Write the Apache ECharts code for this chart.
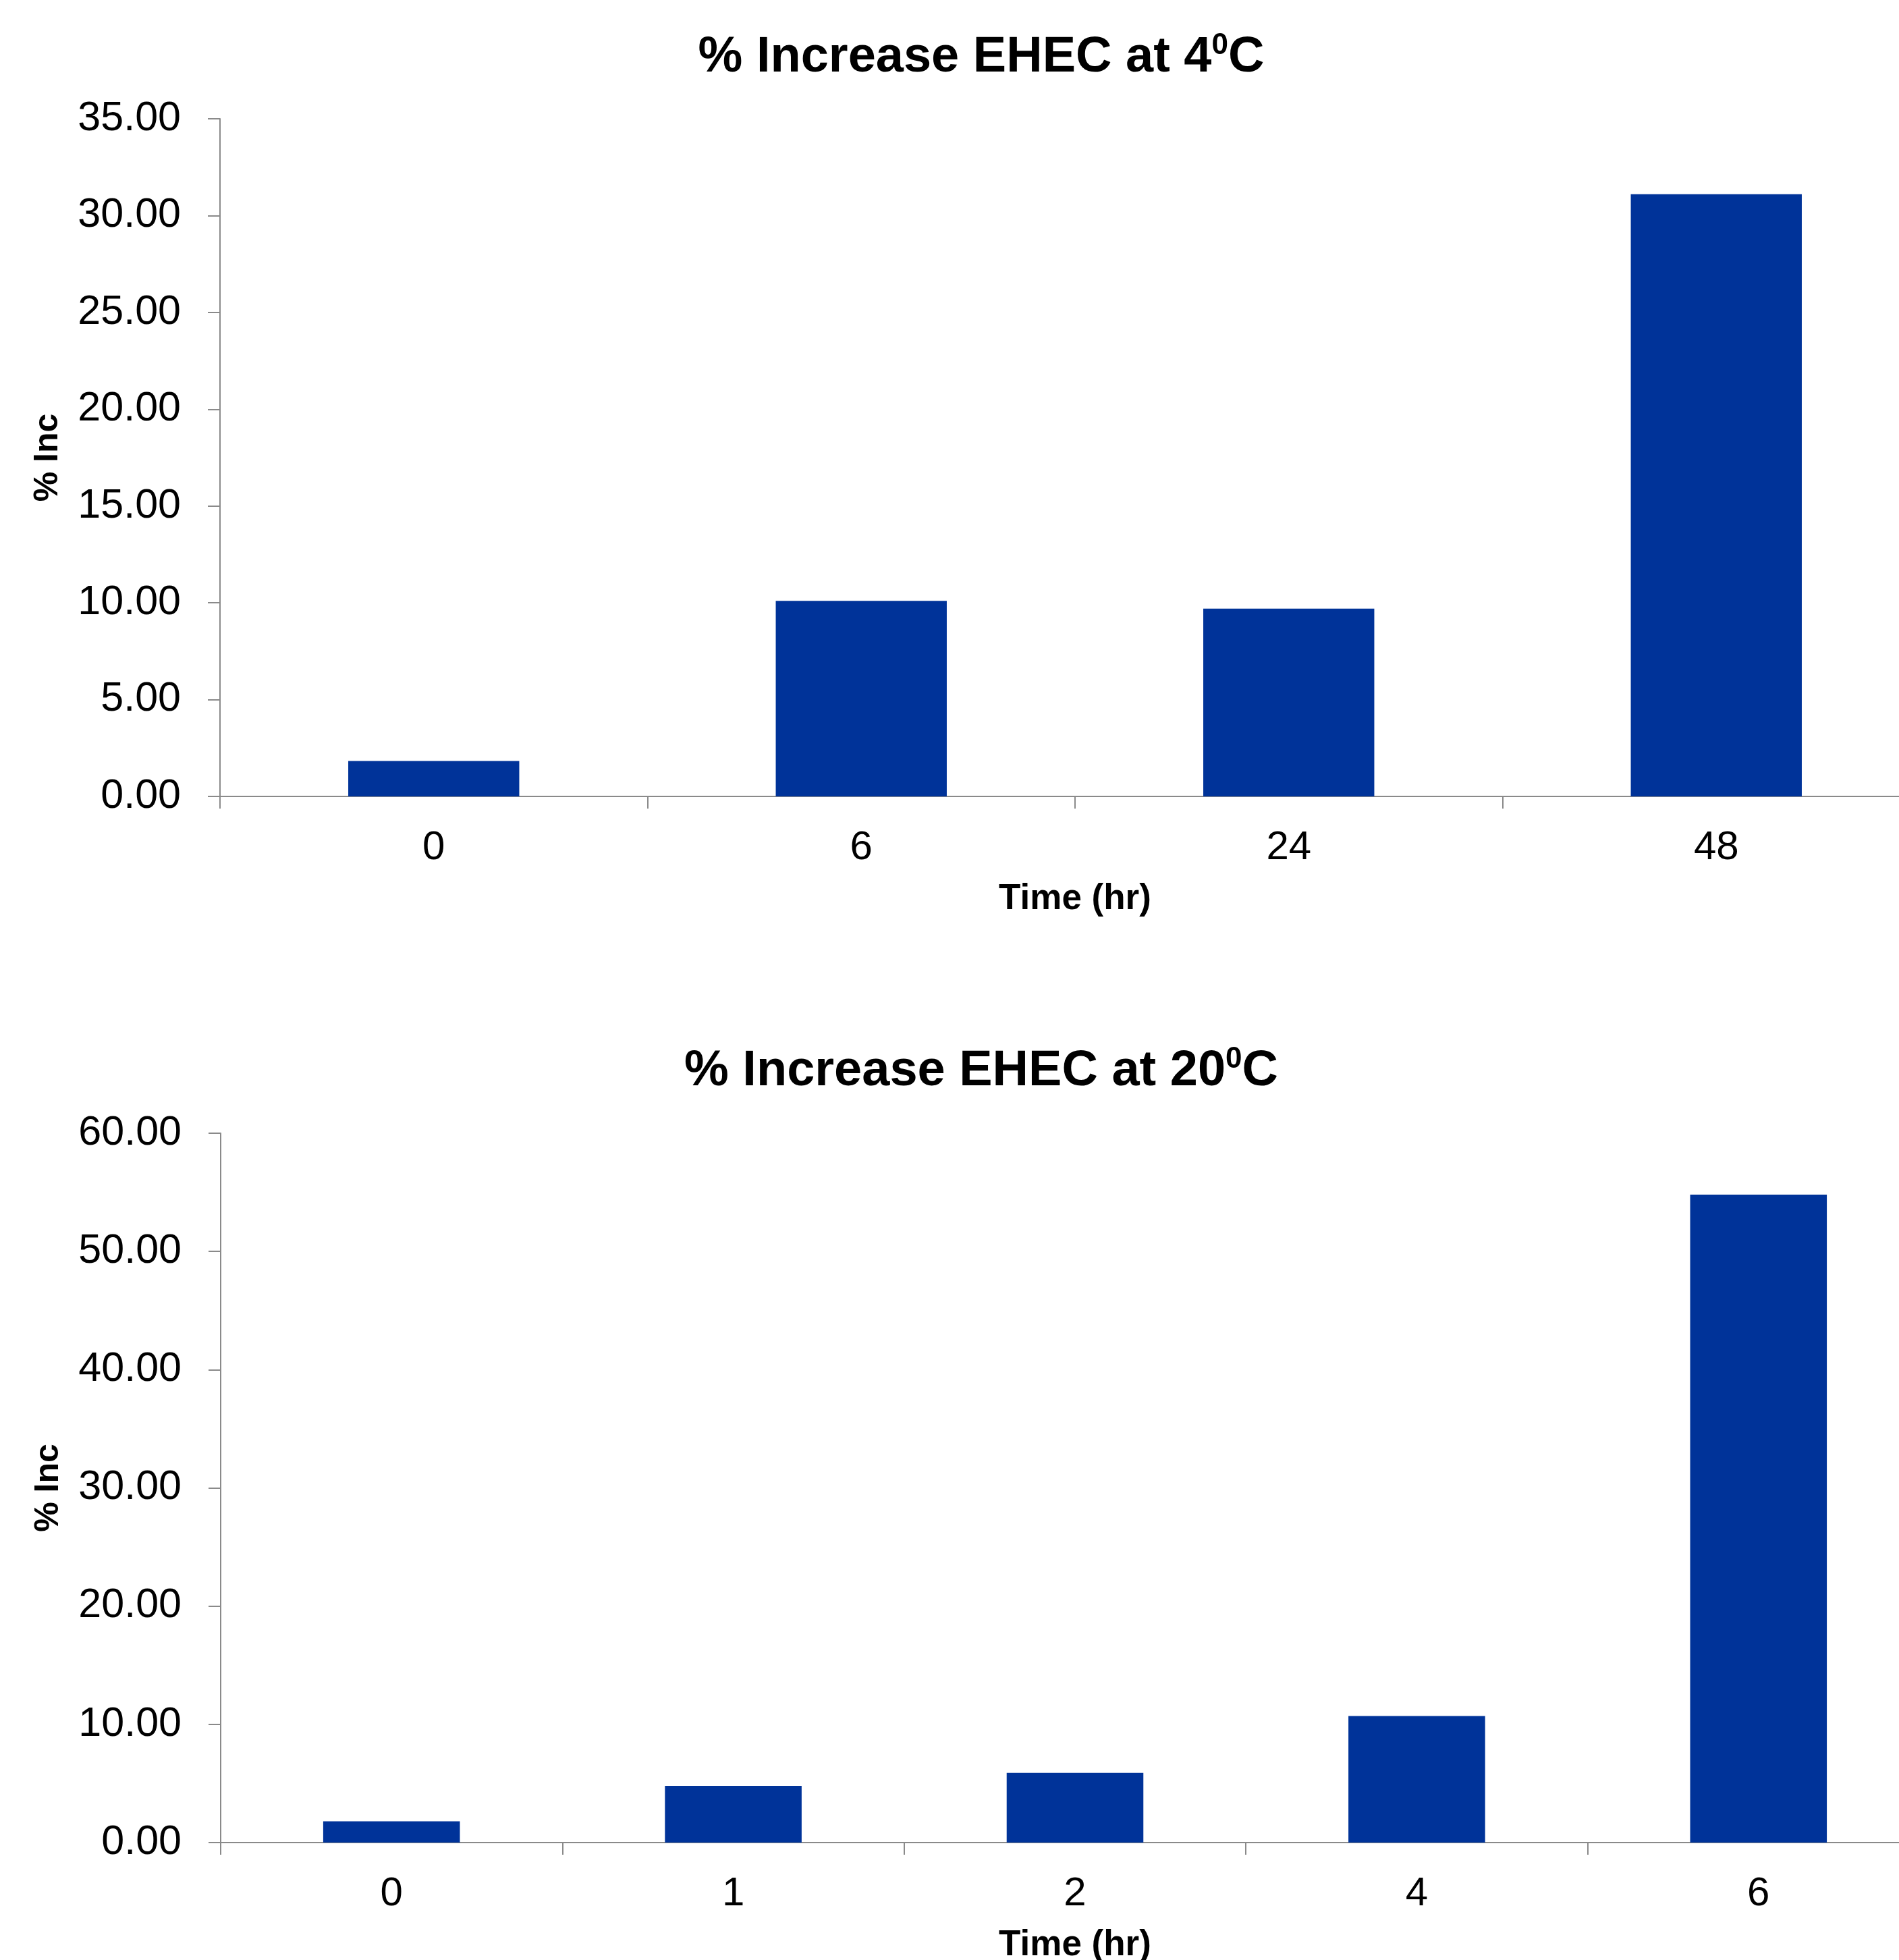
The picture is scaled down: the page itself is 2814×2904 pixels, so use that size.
<!DOCTYPE html>
<html>
<head>
<meta charset="utf-8">
<title>% Increase EHEC</title>
<script src="https://cdn.jsdelivr.net/npm/echarts@6/dist/echarts.min.js"></script>
<style>
  html, body { margin: 0; padding: 0; background: #ffffff; }
  #chart { width: 2814px; height: 2904px; }
</style>
</head>
<body>
<div id="chart"></div>
<script>
// Hours sampled and percent increase at 4 °C
const hours4C = ['0', '6', '24', '48'];
const increase4C = [1.83, 10.10, 9.70, 31.10];

// Hours sampled and percent increase at 20 °C
const hours20C = ['0', '1', '2', '4', '6'];
const increase20C = [1.80, 4.79, 5.89, 10.70, 54.80];

// Value axis ranges
const yMax4C = 35, yStep4C = 5;
const yMax20C = 60, yStep20C = 10;

const FONT = '"Liberation Sans", Arial, Helvetica, sans-serif';
const AXIS_GREY = '#8a8a8a';
const BAR_BLUE = '#003399';

function titleOf(prefix, supText, suffix, top) {
  return {
    text: prefix + '{sup|' + supText + '}' + suffix,
    left: 1449,
    top: top,
    textAlign: 'center',
    textStyle: {
      fontFamily: FONT,
      fontSize: 74,
      fontWeight: 'bold',
      color: '#000000',
      lineHeight: 80,
      rich: {
        sup: {
          fontFamily: FONT,
          fontSize: 44,
          fontWeight: 'bold',
          color: '#000000',
          lineHeight: 50,
          verticalAlign: 'top'
        }
      }
    }
  };
}

function xAxisOf(gridIndex, cats) {
  return {
    type: 'category',
    gridIndex: gridIndex,
    data: cats,
    name: 'Time (hr)',
    nameLocation: 'middle',
    nameGap: 126,
    nameTextStyle: { fontFamily: FONT, fontSize: 53, fontWeight: 'bold', color: '#000000' },
    axisLine: { lineStyle: { color: AXIS_GREY, width: 2 } },
    axisTick: { show: true, length: 18, lineStyle: { color: AXIS_GREY, width: 2 } },
    axisLabel: { fontFamily: FONT, fontSize: 60, color: '#000000', margin: 46 },
    splitLine: { show: false }
  };
}

function yAxisOf(gridIndex, max, step) {
  return {
    type: 'value',
    gridIndex: gridIndex,
    min: 0,
    max: max,
    interval: step,
    name: '% Inc',
    nameLocation: 'middle',
    nameGap: 230,
    nameTextStyle: { fontFamily: FONT, fontSize: 50, fontWeight: 'bold', color: '#000000' },
    axisLine: { show: true, lineStyle: { color: AXIS_GREY, width: 2 } },
    axisTick: { show: true, length: 18, lineStyle: { color: AXIS_GREY, width: 2 } },
    axisLabel: {
      fontFamily: FONT, fontSize: 61, color: '#000000', margin: 58,
      formatter: v => v.toFixed(2)
    },
    splitLine: { show: false }
  };
}

const chart = echarts.init(document.getElementById('chart'), null, { renderer: 'canvas' });

// The plot areas run slightly past the right edge of the page, so the
// grid is not squeezed back inside the canvas.
chart.setOption({
  backgroundColor: '#ffffff',
  animation: false,
  title: [
    titleOf('% Increase EHEC at 4', '0', 'C', 41),
    titleOf('% Increase EHEC at 20', '0', 'C', 1543)
  ],
  grid: [
    { left: 326, top: 176, width: 2534, height: 1004, containLabel: false, outerBoundsMode: 'none' },
    { left: 327, top: 1679, width: 2532, height: 1051, containLabel: false, outerBoundsMode: 'none' }
  ],
  xAxis: [xAxisOf(0, hours4C), xAxisOf(1, hours20C)],
  yAxis: [yAxisOf(0, yMax4C, yStep4C), yAxisOf(1, yMax20C, yStep20C)],
  series: [
    {
      type: 'bar',
      xAxisIndex: 0,
      yAxisIndex: 0,
      data: increase4C,
      barCategoryGap: '60%',
      itemStyle: { color: BAR_BLUE }
    },
    {
      type: 'bar',
      xAxisIndex: 1,
      yAxisIndex: 1,
      data: increase20C,
      barCategoryGap: '60%',
      itemStyle: { color: BAR_BLUE }
    }
  ]
});
</script>
</body>
</html>
